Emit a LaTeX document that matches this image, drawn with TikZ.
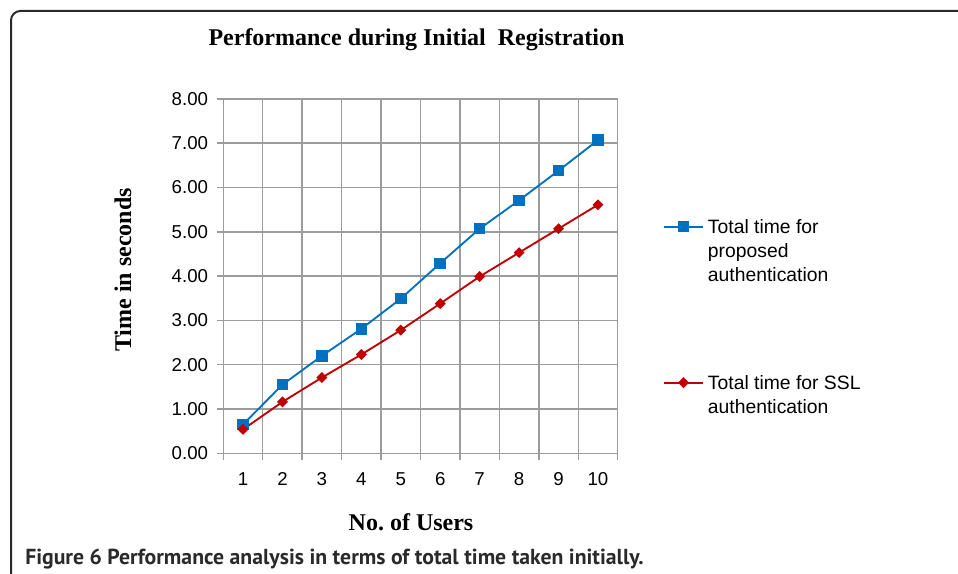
\documentclass[tikz,border=0pt]{standalone}
\usepackage{fontspec}
\setmainfont{Liberation Serif}
\setsansfont{Liberation Sans}
\newfontfamily\capfont{PT Sans}
\usetikzlibrary{positioning}
\definecolor{propblue}{HTML}{0070C0}
\definecolor{sslred}{HTML}{C00000}
\definecolor{gridgray}{HTML}{9C9C9C}
\definecolor{framegray}{HTML}{2A2A2A}

\begin{document}
\begin{tikzpicture}[x=0.75pt, y=-0.75pt,
                    tick/.style={font=\sffamily\fontsize{14}{16}\selectfont, inner sep=0pt},
                    axtitle/.style={font=\bfseries\fontsize{18}{20}\selectfont, inner sep=0pt},
                    leg/.style={font=\sffamily\fontsize{14.5}{18}\selectfont, align=left, anchor=base west, inner sep=0pt},
                    g/.style={gridgray, line width=1.1pt},
                    prop/.style={propblue, line width=1.4pt, line join=round},
                    ssl/.style={sslred, line width=1.4pt, line join=round},
                    sq/.style={rectangle, fill=propblue, minimum size=8.6pt, inner sep=0pt},
                    dia/.style={rectangle, rotate=45, fill=sslred, minimum size=5.8pt, inner sep=0pt},
                    frame/.style={framegray, line width=1.5pt, rounded corners=7pt}]
  \useasboundingbox (0,0) rectangle (958,574);
  \draw[frame] (11,574) -- (11,11) -- (958,11);
  \node[axtitle] (title) at (416.5,40) {Performance during Initial\ \ Registration};
  % plot area, one unit = one user / one second
  \begin{scope}[shift={(223.3,453.3)}, x=29.58pt, y=33.225pt]
    \foreach \k in {0,...,10} \draw[g] (\k,-0.16) -- (\k,8);
    \foreach \v in {0,...,8} \draw[g] (-0.16,\v) -- (10,\v);
    \foreach \v in {0,...,8} \node[tick, anchor=east] (y\v) at (-0.38,\v) {\v.00};
    \foreach \i in {1,...,10} \node[tick] (x\i) at (\i-0.5,-0.58) {\i};
    \foreach \v [count=\i] in {0.65,1.55,2.20,2.81,3.49,4.29,5.07,5.71,6.38,7.07}
      \coordinate (p\i) at (\i-0.5,\v);
    \foreach \v [count=\i] in {0.54,1.16,1.71,2.23,2.78,3.38,3.99,4.53,5.07,5.61}
      \coordinate (s\i) at (\i-0.5,\v);
    \draw[prop] (p1) \foreach \i in {2,...,10} {-- (p\i)};
    \draw[ssl] (s1) \foreach \i in {2,...,10} {-- (s\i)};
    \foreach \i in {1,...,10} \node[sq] (pm\i) at (p\i) {};
    \foreach \i in {1,...,10} \node[dia] (sm\i) at (s\i) {};
  \end{scope}
  \node[axtitle] (xtitle) at (411,522) {No.\ of Users};
  \node[axtitle, rotate=90] (ytitle) at (123,270) {Time in seconds};
  % legend
  \coordinate (lpa) at (664,226.7); \coordinate (lpb) at (703,226.7);
  \coordinate (lsa) at (664,382.7); \coordinate (lsb) at (703,382.7);
  \draw[prop] (lpa) -- (lpb);
  \node[sq] (lpm) at (683.5,226.7) {};
  \draw[ssl] (lsa) -- (lsb);
  \node[dia] (lsm) at (683.5,382.7) {};
  \node[leg] (legprop) at (707.7,281.7) {Total time for\\proposed\\authentication};
  \node[leg] (legssl) at (707.7,413.7) {Total time for SSL\\authentication};
  % caption
  \node[anchor=base west, inner sep=0pt, text=framegray,
        font=\capfont\bfseries\fontsize{16.3}{18}\selectfont] (caption) at (25,564.3)
        {Figure 6 Performance analysis in terms of total time taken initially.};
\end{tikzpicture}
\end{document}
